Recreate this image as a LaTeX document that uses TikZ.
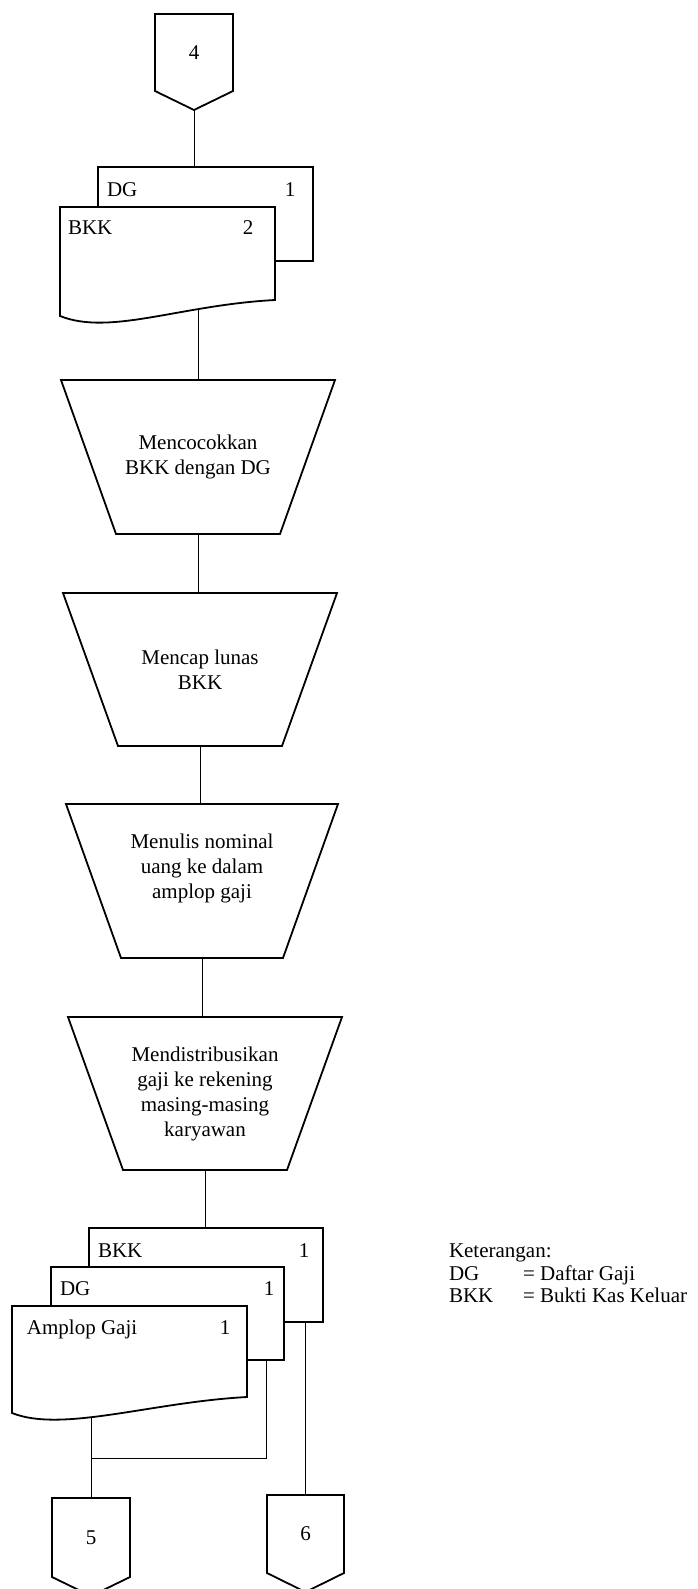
\documentclass[tikz,border=0pt]{standalone}
\usepackage{fontspec}
\setmainfont{Liberation Serif}
\usetikzlibrary{calc,backgrounds}
\tikzset{
  shp/.style={line width=1.8pt, line join=miter},
  conn/.style={line width=1pt},
  box/.style={rectangle, draw=none, inner sep=0pt, outer sep=0pt},
  lbl/.style={inner sep=0pt, outer sep=0pt},
  ptxt/.style={inner sep=0pt, outer sep=0pt, align=center},
}
\newcommand{\offpageout}[1]{\draw[shp] (#1.north west) -- (#1.north east) -- (#1.south east) -- ($(#1.south)+(0,19)$) -- (#1.south west) -- cycle;}
\newcommand{\trapout}[1]{\draw[shp] (#1.north west) -- (#1.north east) -- ($(#1.south east)+(-55,0)$) -- ($(#1.south west)+(55,0)$) -- cycle;}
\newcommand{\docout}[1]{\draw[shp, fill=white] (#1.north west) -- (#1.north east) -- ($(#1.south east)+(0,-16)$) .. controls ($(#1.south east)+(-95,-11)$) and ($(#1.south west)+(50,20)$) .. (#1.south west) -- cycle;}
\newcommand{\backdocout}[1]{\draw[shp, fill=white] (#1.north west) rectangle (#1.south east);}
\begin{document}
\begin{tikzpicture}[x=1pt, y=-1pt, font=\fontsize{21}{25}\selectfont]
\useasboundingbox (0,0) rectangle (697,1589);
\clip (0,0) rectangle (697,1589);

% off-page connector 4
\node[box, minimum width=78pt, minimum height=77pt, anchor=north west] (c4) at (155,14) {4};
\offpageout{c4}
\coordinate (c4tip) at ($(c4.south)+(0,19)$);

% top documents
\node[box, minimum width=215pt, minimum height=94pt, anchor=north west] (dg1) at (98,167) {};
\backdocout{dg1}
\node[lbl, anchor=base west] (dg1a) at (107,197) {DG};
\node[lbl, anchor=base] (dg1b) at (290,197) {1};
\node[box, minimum width=215pt, minimum height=109pt, anchor=north west] (bkk1) at (60,207) {};
\docout{bkk1}
\node[lbl, anchor=base west] (bkk1a) at (68,235) {BKK};
\node[lbl, anchor=base] (bkk1b) at (248,235) {2};

% manual operations
\node[box, minimum width=274pt, minimum height=154pt] (t1) at (198,457) {};
\trapout{t1}
\node[ptxt] (t1x) at (t1.center) {Mencocokkan\\BKK dengan DG};

\node[box, minimum width=274pt, minimum height=153pt] (t2) at (200,669.5) {};
\trapout{t2}
\node[ptxt] (t2x) at (t2.center) {Mencap lunas\\BKK};

\node[box, minimum width=272pt, minimum height=154pt] (t3) at (202,881) {};
\trapout{t3}
\node[ptxt] (t3x) at ($(t3.center)+(0,-13)$) {Menulis nominal\\uang ke dalam\\amplop gaji};

\node[box, minimum width=274pt, minimum height=153pt] (t4) at (205,1093.5) {};
\trapout{t4}
\node[ptxt] (t4x) at (t4.center) {Mendistribusikan\\gaji ke rekening\\masing-masing\\karyawan};

% bottom documents
\node[box, minimum width=234pt, minimum height=94pt, anchor=north west] (bkk2) at (89,1228) {};
\backdocout{bkk2}
\node[lbl, anchor=base west] (bkk2a) at (98,1257) {BKK};
\node[lbl, anchor=base] (bkk2b) at (304,1257) {1};
\node[box, minimum width=233pt, minimum height=93pt, anchor=north west] (dg2) at (51,1267) {};
\backdocout{dg2}
\node[lbl, anchor=base west] (dg2a) at (60,1295) {DG};
\node[lbl, anchor=base] (dg2b) at (269,1295) {1};
\node[box, minimum width=235pt, minimum height=107pt, anchor=north west] (amp) at (12,1306) {};
\docout{amp}
\node[lbl, anchor=base west] (ampa) at (27,1334) {Amplop Gaji};
\node[lbl, anchor=base] (ampb) at (225,1334) {1};

% off-page connectors 5 and 6
\node[box, minimum width=78pt, minimum height=79pt, anchor=north west] (c5) at (52,1498) {5};
\offpageout{c5}
\node[box, minimum width=77pt, minimum height=78pt, anchor=north west] (c6) at (267,1495) {6};
\offpageout{c6}

\coordinate (jn) at (266,1458);

% legend
\node[lbl, anchor=base west] (lg0) at (449,1257) {Keterangan:};
\node[lbl, anchor=base west] (lg1) at (449,1280) {DG};
\node[lbl, anchor=base west] (lg1b) at (523,1280) {= Daftar Gaji};
\node[lbl, anchor=base west] (lg2) at (449,1302) {BKK};
\node[lbl, anchor=base west] (lg2b) at (523,1302) {= Bukti Kas Keluar};

% connectors
\begin{scope}[on background layer]
\draw[conn] (c4tip) -- (c4tip |- dg1.north);
\draw[conn] (t1.north) -- (t1.north |- bkk1.center);
\draw[conn] (t1.south) -- (t1.south |- t2.north);
\draw[conn] (t2.south) -- (t2.south |- t3.north);
\draw[conn] (t3.south) -- (t3.south |- t4.north);
\draw[conn] (t4.south) -- (t4.south |- bkk2.north);
\draw[conn] (c5.north) -- (c5.north |- amp.center);
\draw[conn] (c5.north |- jn) -- (jn) -- (jn |- dg2.south);
\draw[conn] (c6.north) -- (c6.north |- bkk2.south);
\end{scope}
\end{tikzpicture}
\end{document}
